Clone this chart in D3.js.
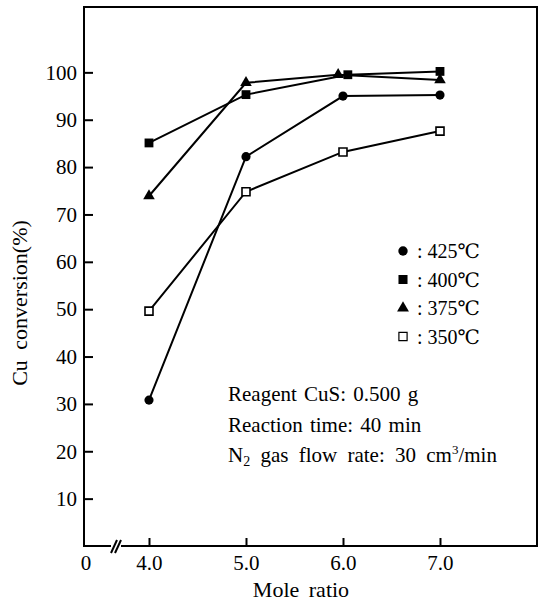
<html>
<head>
<meta charset="utf-8">
<script src="https://d3js.org/d3.v7.min.js"></script>
<style>
body { margin: 0; background: #fff; }
text { font-family: "Liberation Serif", "DejaVu Serif", serif; fill: #000; }
</style>
</head>
<body>
<svg id="chart" width="539" height="603"></svg>
<script>
// data
var moleRatio = [4.0, 5.0, 6.0, 7.0];
var ratio400 = [4.0, 5.0, 6.05, 7.0];   // points nudged apart at 6.0 in the original
var ratio375 = [4.0, 5.0, 5.95, 7.0];
var conv425 = [30.8, 82.2, 95.0, 95.2];
var conv400 = [85.1, 95.3, 99.5, 100.2];
var conv375 = [73.9, 97.8, 99.5, 98.4];
var conv350 = [49.6, 74.8, 83.2, 87.6];
var yTicks = [10, 20, 30, 40, 50, 60, 70, 80, 90, 100];
var xTicks = [4.0, 5.0, 6.0, 7.0];
var legendLabels = ["425\u2103", "400\u2103", "375\u2103", "350\u2103"];

var svg = d3.select("#chart");
var pL = 84, pR = 537, pT = 7, pB = 546;

var x = d3.scaleLinear().domain([3.33, 8.0]).range([pL, pR]);
var y = d3.scaleLinear().domain([0, 113.8]).range([pB, pT]);

var series = [
	{xs: moleRatio, ys: conv425, sym: d3.symbolCircle, size: 66, fill: "#000"},
	{xs: ratio400, ys: conv400, sym: d3.symbolSquare, size: 78, fill: "#000"},
	{xs: ratio375, ys: conv375, sym: d3.symbolTriangle, size: 58, fill: "#000"},
	{xs: moleRatio, ys: conv350, sym: d3.symbolSquare, size: 64, fill: "#fff"}
];

// frame
svg.append("rect").attr("x", pL).attr("y", pT)
	.attr("width", pR - pL).attr("height", pB - pT)
	.attr("fill", "none").attr("stroke", "#000").attr("stroke-width", 2);

// axes, ticks pointing inward
var yAxis = svg.append("g").attr("transform", "translate(" + pL + ",0)")
	.call(d3.axisLeft(y).tickValues(yTicks).tickSizeInner(-9).tickSizeOuter(0).tickPadding(7));
yAxis.select(".domain").remove();
yAxis.selectAll("line").attr("stroke-width", 2);
yAxis.selectAll("text").style("font-size", "21px").attr("font-family", null);

var xAxis = svg.append("g").attr("transform", "translate(0," + pB + ")")
	.call(d3.axisBottom(x).tickValues(xTicks).tickFormat(d3.format(".1f")).tickSizeInner(-8).tickSizeOuter(0).tickPadding(9));
xAxis.select(".domain").remove();
xAxis.selectAll("line").attr("stroke-width", 2);
xAxis.selectAll("text").style("font-size", "21px").attr("font-family", null);

svg.append("text").attr("x", pL + 2).attr("y", 570).attr("text-anchor", "middle")
	.style("font-size", "21px").text("0");

// axis break mark
var bx = 116;
svg.append("rect").attr("x", bx - 5).attr("y", pB - 2).attr("width", 10).attr("height", 4).attr("fill", "#fff");
[-2, 2].forEach(function(o) {
	svg.append("line").attr("x1", bx + o - 3).attr("y1", pB + 7).attr("x2", bx + o + 3).attr("y2", pB - 6)
		.attr("stroke", "#000").attr("stroke-width", 2);
});

// lines then markers
var line = d3.line().x(function(d) { return x(d[0]); }).y(function(d) { return y(d[1]); });
series.forEach(function(s) {
	var pts = d3.zip(s.xs, s.ys);
	svg.append("path").datum(pts).attr("d", line)
		.attr("fill", "none").attr("stroke", "#000").attr("stroke-width", 2);
});
series.forEach(function(s) {
	var pts = d3.zip(s.xs, s.ys);
	svg.append("g").selectAll("path").data(pts).enter().append("path")
		.attr("transform", function(d) { return "translate(" + x(d[0]) + "," + y(d[1]) + ")"; })
		.attr("d", d3.symbol().type(s.sym).size(s.size))
		.attr("fill", s.fill).attr("stroke", "#000").attr("stroke-width", s.fill == "#fff" ? 1.6 : 0);
});

// legend
var leg = svg.append("g");
legendLabels.forEach(function(lab, i) {
	var ly = 251 + i * 28.5;
	var s = series[i];
	leg.append("path").attr("transform", "translate(403," + ly + ")")
		.attr("d", d3.symbol().type(s.sym).size(s.size * 1.05))
		.attr("fill", s.fill).attr("stroke", "#000").attr("stroke-width", s.fill == "#fff" ? 1.2 : 0);
	leg.append("text").attr("x", 417).attr("y", ly + 7).style("font-size", "20px").text(": " + lab);
});

// conditions
var notes = svg.append("g").style("font-size", "21px").style("word-spacing", "2px");
notes.append("text").attr("x", 228).attr("y", 401).text("Reagent CuS: 0.500 g");
notes.append("text").attr("x", 228).attr("y", 432).text("Reaction time: 40 min");
var n3 = notes.append("text").attr("x", 228).attr("y", 462).style("word-spacing", "5px");
n3.append("tspan").text("N");
n3.append("tspan").attr("dy", 4).style("font-size", "14px").text("2");
n3.append("tspan").attr("dy", -4).text(" gas flow rate: 30 cm");
n3.append("tspan").attr("dy", -8).style("font-size", "13px").text("3");
n3.append("tspan").attr("dy", 8).text("/min");

// axis titles
svg.append("text").attr("transform", "translate(27,303) rotate(-90)").attr("text-anchor", "middle")
	.style("font-size", "22px").style("word-spacing", "5px").text("Cu conversion(%)");
svg.append("text").attr("x", 301).attr("y", 597).attr("text-anchor", "middle")
	.style("font-size", "22px").style("word-spacing", "4px").text("Mole ratio");
</script>
</body>
</html>
